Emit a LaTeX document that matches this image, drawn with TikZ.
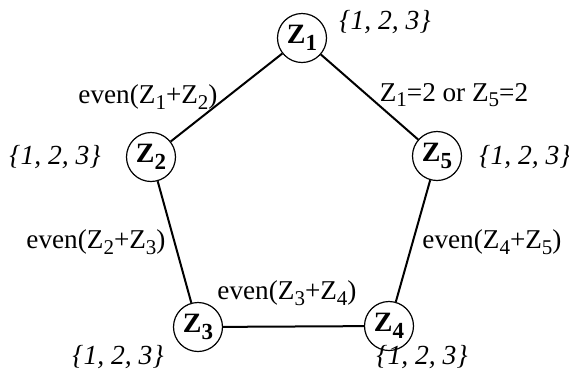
\documentclass[tikz,border=0pt]{standalone}
\usepackage{fontspec}
\setmainfont{Liberation Serif}
\usepackage{tikz}
\newcommand{\zsub}[1]{Z\raisebox{-0.45ex}{\fontsize{10.5}{11}\selectfont #1}}
\newcommand{\zbold}[1]{\textbf{Z\raisebox{-0.5ex}{\fontsize{11.5}{12}\selectfont #1}}}

\begin{document}
\begin{tikzpicture}[x=0.5pt,y=-0.5pt,
			varnode/.style={draw, circle, line width=0.6pt, minimum size=24.5pt, inner sep=0pt, font=\fontsize{14}{16}\selectfont},
			domlabel/.style={font=\fontsize{13.8}{16}\selectfont\itshape},
			conlabel/.style={font=\fontsize{13.6}{16}\selectfont},
			conline/.style={line width=1pt}]
			\useasboundingbox (0,0) rectangle (569,377);
			\node[varnode] (z1) at (302,38) {\zbold{1}};
			\node[varnode] (z2) at (151,157) {\zbold{2}};
			\node[varnode] (z3) at (198,327) {\zbold{3}};
			\node[varnode] (z4) at (389,326) {\zbold{4}};
			\node[varnode] (z5) at (437,156) {\zbold{5}};
			\draw[conline] (z1) -- (z2);
			\draw[conline] (z2) -- (z3);
			\draw[conline] (z3) -- (z4);
			\draw[conline] (z4) -- (z5);
			\draw[conline] (z5) -- (z1);
			\node[domlabel] (d1) at (385,22) {\{1, 2, 3\}};
			\node[domlabel] (d2) at (55,157) {\{1, 2, 3\}};
			\node[domlabel] (d3) at (118,357) {\{1, 2, 3\}};
			\node[domlabel] (d4) at (422,357) {\{1, 2, 3\}};
			\node[domlabel] (d5) at (525,157) {\{1, 2, 3\}};
			\node[conlabel] (c12) at (148,97) {even(\zsub{1}+\zsub{2})};
			\node[conlabel] (c15) at (454,95) {\zsub{1}=2 or \zsub{5}=2};
			\node[conlabel] (c23) at (96,242) {even(\zsub{2}+\zsub{3})};
			\node[conlabel] (c45) at (492,242) {even(\zsub{4}+\zsub{5})};
			\node[conlabel] (c34) at (287,293) {even(\zsub{3}+\zsub{4})};
		\end{tikzpicture}
\end{document}
